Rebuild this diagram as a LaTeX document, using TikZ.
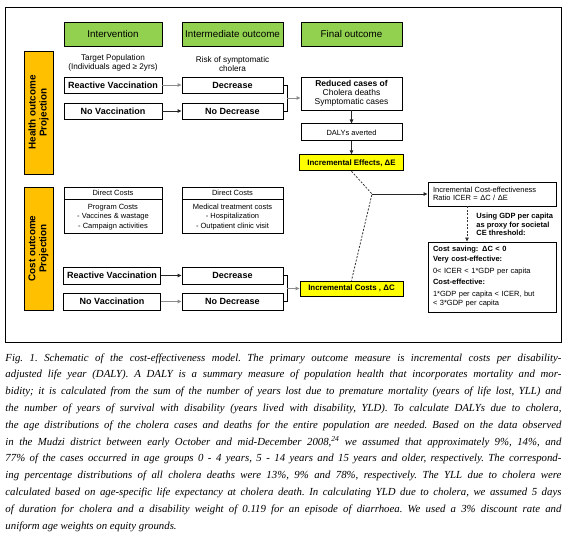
\documentclass[tikz,border=0pt]{standalone}
\usepackage{fontspec}
\setmainfont{Liberation Serif}
\setsansfont{Liberation Sans}
\usepackage{tikz}
\usetikzlibrary{arrows.meta,positioning}
\definecolor{hdrgreen}{HTML}{92D050}
\definecolor{projorange}{HTML}{FFC000}
\definecolor{incyellow}{HTML}{FFFF00}
\definecolor{arrgray}{HTML}{8C8C8C}

\begin{document}
\begin{tikzpicture}[x=1pt,y=-1pt,
  every node/.style={font=\sffamily,inner sep=0pt},
  hdr/.style={draw,fill=hdrgreen,minimum width=101pt,minimum height=24pt,font=\sffamily\fontsize{9.8}{11}\selectfont},
  proj/.style={draw,fill=projorange,rotate=90,minimum width=123pt,minimum height=29pt,align=center,font=\sffamily\bfseries\fontsize{9.9}{11}\selectfont},
  note/.style={align=center,font=\sffamily\fontsize{8.2}{9.5}\selectfont},
  vbox/.style={draw,minimum width=101pt,minimum height=16pt,font=\sffamily\bfseries\fontsize{9}{10}\selectfont},
  sbox/.style={draw,minimum width=101pt,align=center,font=\sffamily\fontsize{7.5}{9.3}\selectfont},
  ybox/.style={draw,fill=incyellow,minimum height=16pt,font=\sffamily\bfseries\fontsize{7.9}{9}\selectfont},
  arr/.style={-{Triangle[length=4pt,width=3.5pt]},line width=0.9pt,black!85},
  arrg/.style={arr,arrgray},
  dotline/.style={line width=0.8pt,dash pattern=on 2pt off 1.5pt,black!80},
  line width=0.9pt]
\useasboundingbox (0,0) rectangle (567,541);
\draw (5,7) rectangle (561,342);
% column headers and side labels
\node[hdr,minimum width=98pt] (hint) at (113,34) {Intervention};
\node[hdr] (hmid) at (232.5,34) {Intermediate outcome};
\node[hdr] (hfin) at (351.5,34) {Final outcome};
\node[proj] (phealth) at (38.5,112.5) {Health outcome\\Projection};
\node[proj] (pcost) at (38.5,248.5) {Cost outcome\\Projection};
% health outcome
\node[note] (target) at (113,63) {Target Population\\(Individuals aged ≥ 2yrs)};
\node[note] (risk) at (232.5,64) {Risk of symptomatic\\cholera};
\node[vbox,minimum width=98pt] (hreact) at (113,85) {Reactive Vaccination};
\node[vbox] (hdec) at (232.5,85) {Decrease};
\node[vbox,minimum width=98pt] (hnovac) at (113,111) {No Vaccination};
\node[vbox] (hnodec) at (232.5,111) {No Decrease};
\node[draw,minimum width=101pt,minimum height=33pt,align=center,font=\sffamily\fontsize{8.5}{9}\selectfont] (reduced) at (351.5,93.5) {\textbf{Reduced cases of}\\Cholera deaths\\Symptomatic cases};
\node[sbox,minimum height=17pt,below=13pt of reduced] (dalys) {DALYs averted};
\node[ybox,minimum width=104pt,below=13pt of dalys] (ince) {Incremental Effects, ΔE};
\draw[arrg] (hreact) -- (hdec);
\draw[arr] (hnovac) -- (hnodec);
\draw (hdec.east) -- ++(4,0) |- (hnodec.east);
\coordinate (hjoin) at (287,98);
\draw[arrg] (hjoin) -- (hjoin -| reduced.west);
\draw[arr] (reduced) -- (dalys);
\draw[arr] (dalys) -- (ince);
% cost outcome
\node[sbox,minimum width=98pt,minimum height=12pt] (cdira) at (113,193) {Direct Costs};
\node[sbox,minimum width=98pt,minimum height=34pt,below=0pt of cdira] (cprog) {Program Costs\\- Vaccines \& wastage\\- Campaign activities};
\node[sbox,minimum height=12pt] (cdirb) at (232.5,193) {Direct Costs};
\node[sbox,minimum height=34pt,below=0pt of cdirb] (cmed) {Medical treatment costs\\- Hospitalization\\- Outpatient clinic visit};
\node[vbox,minimum width=97pt,minimum height=17pt] (creact) at (112,275.5) {Reactive Vaccination};
\node[vbox,minimum height=17pt] (cdec) at (232.5,275.5) {Decrease};
\node[vbox,minimum width=97pt,minimum height=17pt] (cnovac) at (112,301.5) {No Vaccination};
\node[vbox,minimum height=17pt] (cnodec) at (232.5,301.5) {No Decrease};
\node[ybox,minimum width=103pt,minimum height=15pt] (incc) at (351.5,288.5) {Incremental Costs , ΔC};
\draw[arr] (creact) -- (cdec);
\draw[arrg] (cnovac) -- (cnodec);
\draw (cdec.east) -- ++(4,0) |- (cnodec.east);
\coordinate (cjoin) at (287,288.5);
\draw[arrg] (cjoin) -- (incc);
% ICER and thresholds
\node[draw,minimum width=128pt,minimum height=24pt,text width=118pt,align=left,font=\sffamily\fontsize{7.5}{8}\selectfont] (icer) at (492,194) {Incremental Cost-effectiveness\\Ratio ICER = ΔC / ΔE};
\coordinate (ijoin) at (372,194);
\draw[dotline] (ince.south) -- (ijoin) -- (incc.north);
\draw[arr] (ijoin) -- (icer);
\node[draw,minimum width=128pt,minimum height=70pt,text width=118pt,align=left,font=\sffamily\fontsize{7.5}{9}\selectfont] (crit) at (492,277) {\textbf{Cost saving: ΔC < 0}\\[1pt]
  \textbf{Very cost-effective:}\\[3pt]
  0< ICER < 1*GDP per capita\\[2pt]
  \textbf{Cost-effective:}\\[3pt]
  1*GDP per capita < ICER, but\\
  < 3*GDP per capita};
\node[anchor=west,align=left,font=\sffamily\bfseries\fontsize{7.5}{8.5}\selectfont] (gdp) at (476,224.5) {Using GDP per capita\\as proxy for societal\\CE threshold:};
\draw[dotline,-{Triangle[length=4pt,width=3.5pt]}] ([xshift=-25pt]icer.south) -- ([xshift=-25pt]crit.north);
% caption
\node[anchor=north west,text width=556pt,align=justify,
  font=\rmfamily\itshape\fontsize{10.8}{16.8}\selectfont] (caption) at (5,353) {\tolerance=10000\relax\hyphenpenalty=10000\relax\frenchspacing
Fig. 1. Schematic of the cost-effectiveness model. The primary outcome measure is incremental costs per disability-\linebreak
adjusted life year (DALY). A DALY is a summary measure of population health that incorporates mortality and mor-\linebreak
bidity; it is calculated from the sum of the number of years lost due to premature mortality (years of life lost, YLL) and\linebreak
the number of years of survival with disability (years lived with disability, YLD). To calculate DALYs due to cholera,\linebreak
the age distributions of the cholera cases and deaths for the entire population are needed. Based on the data observed\linebreak
in the Mudzi district between early October and mid-December 2008,\textsuperscript{24} we assumed that approximately 9\%, 14\%, and\linebreak
77\% of the cases occurred in age groups 0 - 4 years, 5 - 14 years and 15 years and older, respectively. The correspond-\linebreak
ing percentage distributions of all cholera deaths were 13\%, 9\% and 78\%, respectively. The YLL due to cholera were\linebreak
calculated based on age-specific life expectancy at cholera death. In calculating YLD due to cholera, we assumed 5 days\linebreak
of duration for cholera and a disability weight of 0.119 for an episode of diarrhoea. We used a 3\% discount rate and\linebreak
uniform age weights on equity grounds.};
\end{tikzpicture}
\end{document}
